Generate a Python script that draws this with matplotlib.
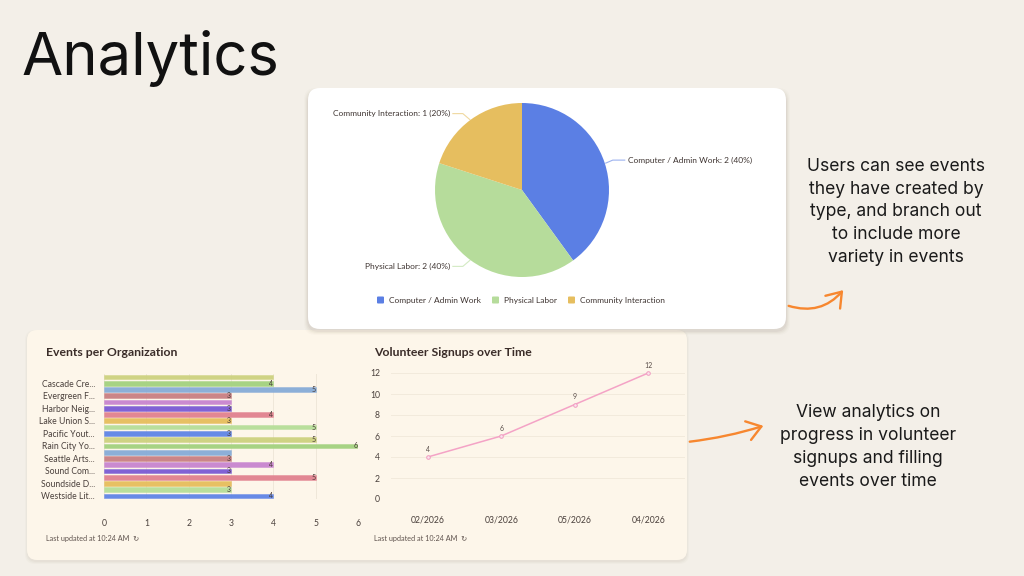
import matplotlib
matplotlib.use("Agg")
import matplotlib.pyplot as plt
import numpy as np
from matplotlib.patches import FancyBboxPatch, FancyArrowPatch

# ---------------- data ----------------
pie_labels = ["Computer / Admin Work", "Physical Labor", "Community Interaction"]
pie_values = [2, 2, 1]
pie_colors = ["#5b7fe4", "#b6dc9b", "#e6be5f"]

org_labels = ["Cascade Cre...", "Evergreen F...", "Harbor Neig...", "Lake Union S...",
              "Pacific Yout...", "Rain City Yo...", "Seattle Arts...", "Sound Com...",
              "Soundside D...", "Westside Lit..."]
org_values = [4, 4, 5, 3, 3, 3, 4, 3, 5, 3, 5, 6, 3, 3, 4, 3, 5, 3, 3, 4]
org_show_value = [False, True, True, True, False, True, True, True, True, True,
                  True, True, False, True, True, True, True, False, True, True]
bar_palette = ["#cdd17f", "#a3d27f", "#86abd8", "#c97f83", "#c884cf",
               "#7a5ad4", "#e1818f", "#e6bd5c", "#b6de98", "#5f84e6"]
bar_ticks = [0, 1, 2, 3, 4, 5, 6]

months = ["02/2026", "03/2026", "05/2026", "04/2026"]
signups = [4, 6, 9, 12]
signup_ticks = [0, 2, 4, 6, 8, 10, 12]

note1 = "Users can see events\nthey have created by\ntype, and branch out\nto include more\nvariety in events"
note2 = "View analytics on\nprogress in volunteer\nsignups and filling\nevents over time"

# ---------------- figure ----------------
W, H = 1024, 576
fig = plt.figure(figsize=(W / 100, H / 100), dpi=100)
fig.patch.set_facecolor("#f3efe8")

def fx(x):
    return x / W

def fy(y):
    return 1 - y / H

def box(x0, y0, x1, y1):
    return [fx(x0), fy(y1), fx(x1 - x0), (y1 - y0) / H]

bg = fig.add_axes([0, 0, 1, 1])
bg.set_xlim(0, W)
bg.set_ylim(H, 0)
bg.axis("off")

CHART_FONT = ["Lato", "DejaVu Sans"]
TEXT_FONT = ["Inter", "DejaVu Sans"]
dark = "#3b2d29"
tickc = "#4a403c"

# bottom card
for i, a in enumerate([0.05, 0.04, 0.03]):
    bg.add_patch(FancyBboxPatch((27 - i, 330 - i + 2), 660 + 2 * i, 230 + 2 * i,
                                boxstyle="round,pad=0,rounding_size=10",
                                fc="#8a7a60", ec="none", alpha=a, zorder=1))
bg.add_patch(FancyBboxPatch((27, 330), 660, 230, boxstyle="round,pad=0,rounding_size=10",
                            fc="#fdf6ea", ec="none", zorder=2))
# pie card with shadow
for i, a in enumerate([0.06, 0.045, 0.03, 0.02]):
    bg.add_patch(FancyBboxPatch((308 - i - 1, 88 - i + 3), 478 + 2 * i + 2, 241 + 2 * i,
                                boxstyle="round,pad=0,rounding_size=12",
                                fc="#6a5a40", ec="none", alpha=a, zorder=3))
bg.add_patch(FancyBboxPatch((308, 88), 478, 241, boxstyle="round,pad=0,rounding_size=12",
                            fc="#ffffff", ec="none", zorder=4))

# title
bg.text(21, 75, "Analytics", fontsize=43, family=TEXT_FONT, color="#111111",
        va="baseline", ha="left", zorder=5)

# notes
bg.text(896, 212, note1, fontsize=12.6, family=TEXT_FONT, color="#1a1a1a",
        ha="center", va="center", linespacing=1.45, zorder=5)
bg.text(868, 447, note2, fontsize=12.6, family=TEXT_FONT, color="#1a1a1a",
        ha="center", va="center", linespacing=1.45, zorder=5)

# arrows
orange = "#f7872f"
bg.add_patch(FancyArrowPatch((786, 305), (845, 288), connectionstyle="arc3,rad=0.35",
                             arrowstyle="->,head_length=5,head_width=3.5",
                             color=orange, lw=1.7, zorder=6, mutation_scale=2))
bg.add_patch(FancyArrowPatch((687, 442), (766, 425), connectionstyle="arc3,rad=0.05",
                             arrowstyle="->,head_length=5,head_width=3.5",
                             color=orange, lw=1.7, zorder=6, mutation_scale=2))

# card texts
bg.text(46, 353, "Events per Organization", fontsize=8.8, fontweight="bold",
        family=CHART_FONT, color=dark, va="center", zorder=5)
bg.text(374, 353, "Volunteer Signups over Time", fontsize=8.8, fontweight="bold",
        family=CHART_FONT, color=dark, va="center", zorder=5)
for xx in (46, 374):
    bg.text(xx, 539, "Last updated at 10:24 AM  \u21bb", fontsize=5.2,
            family=CHART_FONT, color="#5e524d", va="center", zorder=5)

# ---------------- pie ----------------
cx, cy, r = 522, 190, 87
pax = fig.add_axes(box(cx - r, cy - r, cx + r, cy + r))
pax.set_zorder(10)
wedges, _ = pax.pie(pie_values, colors=pie_colors, startangle=90, counterclock=False,
                    radius=1.0, wedgeprops=dict(edgecolor="none"))
pax.set_xlim(-1, 1)
pax.set_ylim(-1, 1)
pax.set_aspect("auto")
pax.axis("off")

total = sum(pie_values)
for w, lab, val, col in zip(wedges, pie_labels, pie_values, pie_colors):
    ang = np.deg2rad((w.theta1 + w.theta2) / 2)
    ex, ey = np.cos(ang), np.sin(ang)
    px0 = cx + r * ex * 1.0
    py0 = cy - r * ey * 1.0
    right = ex >= 0
    if right:
        pts = [(px0 + 1, py0), (px0 + 8, py0 - 3), (px0 + 20, py0 - 3)]
        tx, ha = px0 + 23, "left"
    else:
        pts = [(px0 - 1, py0), (px0 - 8, py0 + (6 if ey < 0 else -6)),
               (px0 - 18, py0 + (6 if ey < 0 else -6))]
        tx, ha = px0 - 21, "right"
    lc = matplotlib.colors.to_rgba(col, 0.6)
    bg.plot([p[0] for p in pts], [p[1] for p in pts], color=lc, lw=0.8, zorder=6)
    bg.text(tx, pts[-1][1], f"{lab}: {val} ({val / total * 100:.0f}%)", fontsize=6.0,
            family=CHART_FONT, color="#3e3431", ha=ha, va="center", zorder=6)

# legend
lx = [377, 492, 568]
for x0, lab, col in zip(lx, pie_labels, pie_colors):
    bg.add_patch(FancyBboxPatch((x0, 296.5), 7, 7, boxstyle="round,pad=0,rounding_size=1",
                                fc=col, ec="none", zorder=6))
    bg.text(x0 + 12, 300.5, lab, fontsize=6.0, family=CHART_FONT, color="#3e3431",
            va="center", zorder=6)

# ---------------- bar chart ----------------
n = len(org_values)
bax = fig.add_axes(box(104, 377 - 3.13, 358, 496 + 3.13))
bax.set_zorder(10)
bax.patch.set_alpha(0)
ypos = np.arange(n)
cols = [bar_palette[i % len(bar_palette)] for i in range(n)]
bax.barh(ypos, org_values, height=0.76, color=[matplotlib.colors.to_rgba(c, 0.95) for c in cols],
         edgecolor=[matplotlib.colors.to_rgba(c, 0.5) for c in cols], lw=0.6, zorder=3)
for yv, v, show in zip(ypos, org_values, org_show_value):
    if show:
        bax.text(v - 0.05, yv, str(v), fontsize=5, family=CHART_FONT, color="#4a3c38",
                 ha="center", va="center", zorder=4)
bax.set_xlim(0, 6)
bax.set_ylim(n - 0.5, -0.5)
bax.set_xticks(bar_ticks)
bax.set_xticklabels([str(t) for t in bar_ticks])
bax.set_yticks(ypos[1::2])
bax.set_yticklabels(org_labels)
for s in bax.spines.values():
    s.set_visible(False)
bax.tick_params(axis="both", length=0, labelsize=6.2, labelcolor=tickc)
bax.tick_params(axis="x", pad=14)
bax.tick_params(axis="y", pad=6.5)
for lab in bax.get_xticklabels() + bax.get_yticklabels():
    lab.set_family(CHART_FONT)
bax.grid(axis="x", color="#efe7d9", lw=0.7, zorder=0)
bax.set_axisbelow(True)

# ---------------- line chart ----------------
lax = fig.add_axes(box(391, 373, 685, 499))
lax.set_zorder(10)
lax.patch.set_alpha(0)
xs = np.arange(len(months))
lax.plot(xs, signups, color="#f4a3c6", lw=1.1, marker="o", ms=2.6,
         mfc="#fbe3ee", mec="#f19dc0", mew=0.7, zorder=3, clip_on=False)
for xv, v in zip(xs, signups):
    lax.annotate(str(v), (xv, v), xytext=(0, 3), textcoords="offset points",
                 ha="center", va="bottom", fontsize=5, family=CHART_FONT, color="#5a4e4a")
lax.set_xlim(-0.5, len(months) - 0.5)
lax.set_ylim(0, 12)
lax.set_yticks(signup_ticks)
lax.set_xticks(xs)
lax.set_xticklabels(months)
for s in lax.spines.values():
    s.set_visible(False)
lax.tick_params(axis="both", length=0, labelsize=6.2, labelcolor=tickc)
lax.tick_params(axis="x", pad=12)
lax.tick_params(axis="y", pad=8)
for lab in lax.get_xticklabels() + lax.get_yticklabels():
    lab.set_family(CHART_FONT)
lax.grid(axis="y", color="#f2eadc", lw=0.7, zorder=0)
lax.set_axisbelow(True)

fig.savefig("out.png", dpi=100, facecolor=fig.get_facecolor())
